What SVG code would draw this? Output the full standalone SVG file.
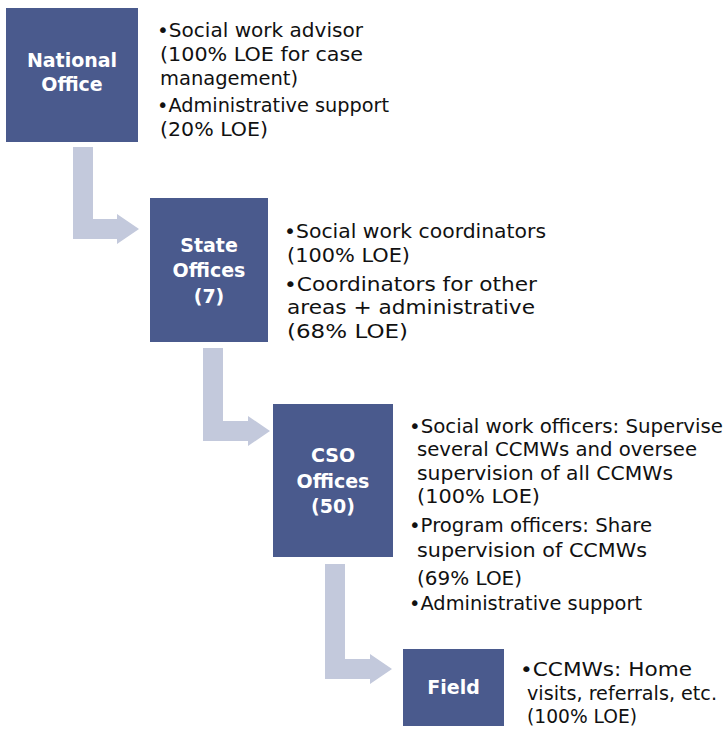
<svg xmlns="http://www.w3.org/2000/svg" width="726" height="729" viewBox="0 0 726 729">
<style>
.box{fill:#4a5a8d;}
.lbl{font-family:"DejaVu Sans","Liberation Sans",sans-serif;font-weight:bold;font-size:19px;fill:#ffffff;text-anchor:middle;}
.txt{font-family:"DejaVu Sans","Liberation Sans",sans-serif;font-size:20px;fill:#111111;}
.arr{fill:#c3c9dc;}
</style>
<rect width="726" height="729" fill="#ffffff"/>
<g id="connectors">
<path class="arr" d="M73,147 H93 V219 H117 V214 L139,229 L117,244 V239 H73 Z"/>
<path class="arr" d="M203,348 H223 V421 H248 V416 L270,431 L248,446 V441 H203 Z"/>
<path class="arr" d="M325,564 H345 V659 H370 V654 L392,669 L370,684 V679 H325 Z"/>
</g>
<g id="national">
<rect class="box" x="6" y="8" width="132" height="134"/>
<text class="lbl" x="72" y="67">National</text>
<text class="lbl" x="72" y="91">Office</text>
<text class="txt" x="157" y="37" textLength="206" lengthAdjust="spacingAndGlyphs">•Social work advisor</text>
<text class="txt" x="160" y="61" textLength="203" lengthAdjust="spacingAndGlyphs">(100% LOE for case</text>
<text class="txt" x="160" y="85" textLength="138" lengthAdjust="spacingAndGlyphs">management)</text>
<text class="txt" x="157" y="112" textLength="232" lengthAdjust="spacingAndGlyphs">•Administrative support</text>
<text class="txt" x="160" y="136" textLength="108" lengthAdjust="spacingAndGlyphs">(20% LOE)</text>
</g>
<g id="state">
<rect class="box" x="150" y="198" width="118" height="144"/>
<text class="lbl" x="209" y="252">State</text>
<text class="lbl" x="209" y="277">Offices</text>
<text class="lbl" x="209" y="303">(7)</text>
<text class="txt" x="284" y="238" textLength="262" lengthAdjust="spacingAndGlyphs">•Social work coordinators</text>
<text class="txt" x="287" y="262" textLength="123" lengthAdjust="spacingAndGlyphs">(100% LOE)</text>
<text class="txt" x="284" y="291" textLength="253" lengthAdjust="spacingAndGlyphs">•Coordinators for other</text>
<text class="txt" x="287" y="314" textLength="248" lengthAdjust="spacingAndGlyphs">areas + administrative</text>
<text class="txt" x="287" y="338" textLength="121" lengthAdjust="spacingAndGlyphs">(68% LOE)</text>
</g>
<g id="cso">
<rect class="box" x="273" y="404" width="120" height="153"/>
<text class="lbl" x="333" y="462">CSO</text>
<text class="lbl" x="333" y="488">Offices</text>
<text class="lbl" x="333" y="513">(50)</text>
<text class="txt" x="409" y="433" textLength="314" lengthAdjust="spacingAndGlyphs">•Social work officers: Supervise</text>
<text class="txt" x="417" y="456" textLength="280" lengthAdjust="spacingAndGlyphs">several CCMWs and oversee</text>
<text class="txt" x="417" y="480" textLength="256" lengthAdjust="spacingAndGlyphs">supervision of all CCMWs</text>
<text class="txt" x="417" y="503" textLength="123" lengthAdjust="spacingAndGlyphs">(100% LOE)</text>
<text class="txt" x="409" y="532" textLength="243" lengthAdjust="spacingAndGlyphs">•Program officers: Share</text>
<text class="txt" x="417" y="557" textLength="230" lengthAdjust="spacingAndGlyphs">supervision of CCMWs</text>
<text class="txt" x="417" y="585" textLength="105" lengthAdjust="spacingAndGlyphs">(69% LOE)</text>
<text class="txt" x="409" y="610" textLength="233" lengthAdjust="spacingAndGlyphs">•Administrative support</text>
</g>
<g id="field">
<rect class="box" x="403" y="649" width="101" height="77"/>
<text class="lbl" x="453.5" y="694">Field</text>
<text class="txt" x="520" y="676" textLength="172" lengthAdjust="spacingAndGlyphs">•CCMWs: Home</text>
<text class="txt" x="527" y="700" textLength="190" lengthAdjust="spacingAndGlyphs">visits, referrals, etc.</text>
<text class="txt" x="527" y="723" textLength="110" lengthAdjust="spacingAndGlyphs">(100% LOE)</text>
</g>
</svg>
